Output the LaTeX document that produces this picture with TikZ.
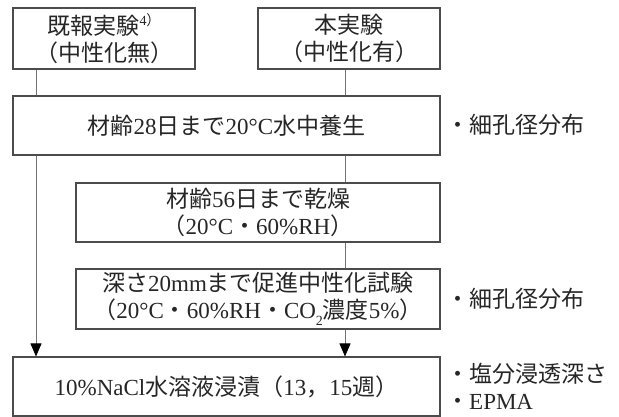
\documentclass[tikz,border=0pt]{standalone}
\usepackage{fontspec}
\setmainfont{Liberation Serif}
\newfontfamily\cjk{Noto Sans CJK JP}
\usetikzlibrary{arrows.meta}
\newcommand\J[1]{{\cjk #1}}
\newcommand\subtwo{\raisebox{-0.28em}{\fontsize{14}{14}\selectfont 2}}
\newcommand\supref{\raisebox{0.4em}{\fontsize{14}{14}\selectfont 4\J{）}}}
\begin{document}
\begin{tikzpicture}[x=1pt,y=-1pt,
  every node/.style={font=\fontsize{23}{27}\selectfont, text=black!85},
  stepbox/.style={draw=black!70, line width=1.1pt, rectangle, inner sep=0pt, align=center},
  conn/.style={draw=black!55, line width=0.8pt},
  arr/.style={conn, -{Triangle[length=13pt,width=11pt,black]}},
  label/.style={anchor=west, align=left, inner sep=0pt}]
\useasboundingbox (0,0) rectangle (619,417);
\node[stepbox, minimum width=182pt, minimum height=61pt] (b1) at (104,38.5)
  {\J{既報実験}\supref\\\J{（中性化無）}};
\node[stepbox, minimum width=182pt, minimum height=61pt] (b2) at (349,38.5)
  {\J{本実験}\\\J{（中性化有）}};
\node[stepbox, minimum width=427pt, minimum height=59pt] (b3) at (226.5,125.5)
  {\J{材齢}28\J{日まで}20°C\J{水中養生}};
\node[stepbox, minimum width=364pt, minimum height=59pt] (b4) at (258,212.5)
  {\J{材齢}56\J{日まで乾燥}\\\J{（}20°C\J{・}60\%RH\J{）}};
\node[stepbox, minimum width=364pt, minimum height=60pt] (b5) at (258,299)
  {\J{深さ}20mm\J{まで促進中性化試験}\\\J{（}20°C\J{・}60\%RH\J{・}CO\subtwo\J{濃度}5\%\J{）}};
\node[stepbox, minimum width=427pt, minimum height=59pt] (b6) at (226.5,386.5)
  {10\%NaCl\J{水溶液浸漬（}13\J{，}15\J{週）}};
\node[label] (r1) at (446,125) {\J{・細孔径分布}};
\node[label] (r2) at (446,299) {\J{・細孔径分布}};
\node[label] (r3) at (446,386) {\J{・塩分浸透深さ}\\\J{・}EPMA};
\coordinate (L) at (36,0);
\coordinate (R) at (345,0);
\draw[conn] (b1.south -| L) -- (b3.north -| L);
\draw[arr] (b3.south -| L) -- (b6.north -| L);
\draw[conn] (b2.south -| R) -- (b3.north -| R);
\draw[conn] (b3.south -| R) -- (b4.north -| R);
\draw[conn] (b4.south -| R) -- (b5.north -| R);
\draw[arr] (b5.south -| R) -- (b6.north -| R);
\end{tikzpicture}
\end{document}
